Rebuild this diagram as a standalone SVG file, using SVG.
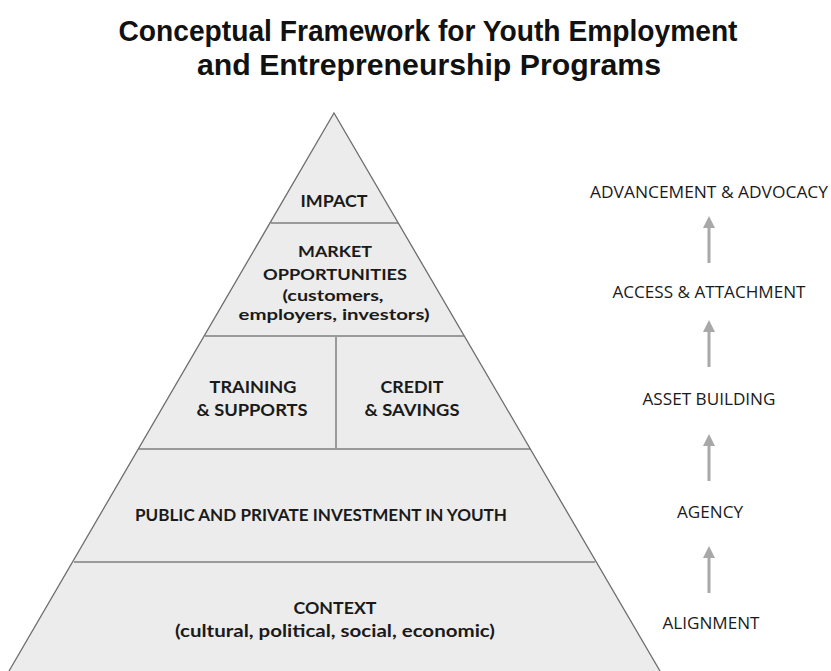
<svg xmlns="http://www.w3.org/2000/svg" width="831" height="671" viewBox="0 0 831 671">
<style>
.title{font-family:"Liberation Sans",Arial,sans-serif;font-weight:700;font-size:29px;fill:#111;text-anchor:middle}
.lbl{font-family:Lato,"Open Sans",sans-serif;font-weight:700;font-size:17px;fill:#1a1a1a;text-anchor:middle}
.sm{font-size:16px}
.side{font-family:"Open Sans","Liberation Sans",sans-serif;font-weight:400;font-size:16px;fill:#1a1a1a;text-anchor:middle}
.tier{fill:#ececec;stroke:none}
.div{stroke:#9a9a9a;stroke-width:2;fill:none}
.edge{stroke:#6e6e6e;stroke-width:1.3;fill:none}
.arr{stroke:#a8a8a8;stroke-width:3;fill:none}
</style>
<defs>
<marker id="ah" markerWidth="4" markerHeight="4" refX="2" refY="2" orient="auto" markerUnits="strokeWidth">
<path d="M0,0 L4,2 L0,4 Z" fill="#a8a8a8"/>
</marker>
</defs>
<rect width="831" height="671" fill="#ffffff"/>
<g id="title">
<text class="title" x="428" y="41" textLength="619" lengthAdjust="spacingAndGlyphs">Conceptual Framework for Youth Employment</text>
<text class="title" x="429" y="75" textLength="464" lengthAdjust="spacingAndGlyphs">and Entrepreneurship Programs</text>
</g>
<g id="pyramid-bg">
<polygon class="tier" points="334,113 660,671 9,671"/>
</g>
<g id="impact">
<text class="lbl" x="334" y="207" textLength="67" lengthAdjust="spacingAndGlyphs">IMPACT</text>
</g>
<g id="market">
<text class="lbl sm" x="335" y="257" textLength="74" lengthAdjust="spacingAndGlyphs">MARKET</text>
<text class="lbl sm" x="335" y="280" textLength="144" lengthAdjust="spacingAndGlyphs">OPPORTUNITIES</text>
<text class="lbl sm" x="333" y="300.5" textLength="101" lengthAdjust="spacingAndGlyphs">(customers,</text>
<text class="lbl sm" x="334" y="320" textLength="191" lengthAdjust="spacingAndGlyphs">employers, investors)</text>
</g>
<g id="training">
<text class="lbl" x="253" y="393" textLength="87" lengthAdjust="spacingAndGlyphs">TRAINING</text>
<text class="lbl" x="252" y="416" textLength="111" lengthAdjust="spacingAndGlyphs">&amp; SUPPORTS</text>
</g>
<g id="credit">
<text class="lbl" x="412" y="393" textLength="63" lengthAdjust="spacingAndGlyphs">CREDIT</text>
<text class="lbl" x="412" y="416" textLength="95" lengthAdjust="spacingAndGlyphs">&amp; SAVINGS</text>
</g>
<g id="investment">
<text class="lbl" x="321" y="521" textLength="372" lengthAdjust="spacingAndGlyphs">PUBLIC AND PRIVATE INVESTMENT IN YOUTH</text>
</g>
<g id="context">
<text class="lbl" x="335" y="614" textLength="83" lengthAdjust="spacingAndGlyphs">CONTEXT</text>
<text class="lbl" x="335" y="637" textLength="320" lengthAdjust="spacingAndGlyphs">(cultural, political, social, economic)</text>
</g>
<g id="dividers">
<line class="div" x1="271" y1="223" x2="398" y2="223"/>
<line class="div" x1="205" y1="336" x2="464" y2="336"/>
<line class="div" x1="336" y1="336" x2="336" y2="449"/>
<line class="div" x1="139" y1="449" x2="530" y2="449"/>
<line class="div" x1="74" y1="562" x2="595" y2="562"/>
<polyline class="edge" points="9,671 334,113 660,671"/>
</g>
<g id="advancement"><text class="side" x="709" y="198" textLength="238" lengthAdjust="spacingAndGlyphs">ADVANCEMENT &amp; ADVOCACY</text></g>
<g id="access"><text class="side" x="709" y="298" textLength="193" lengthAdjust="spacingAndGlyphs">ACCESS &amp; ATTACHMENT</text></g>
<g id="asset"><text class="side" x="709" y="405" textLength="133" lengthAdjust="spacingAndGlyphs">ASSET BUILDING</text></g>
<g id="agency"><text class="side" x="710" y="518" textLength="66" lengthAdjust="spacingAndGlyphs">AGENCY</text></g>
<g id="alignment"><text class="side" x="711" y="629" textLength="97" lengthAdjust="spacingAndGlyphs">ALIGNMENT</text></g>
<g id="connectors">
<line class="arr" x1="709" y1="263" x2="709" y2="222" marker-end="url(#ah)"/>
<line class="arr" x1="709" y1="367" x2="709" y2="326" marker-end="url(#ah)"/>
<line class="arr" x1="709" y1="481" x2="709" y2="440" marker-end="url(#ah)"/>
<line class="arr" x1="709" y1="593" x2="709" y2="552" marker-end="url(#ah)"/>
</g>
</svg>
